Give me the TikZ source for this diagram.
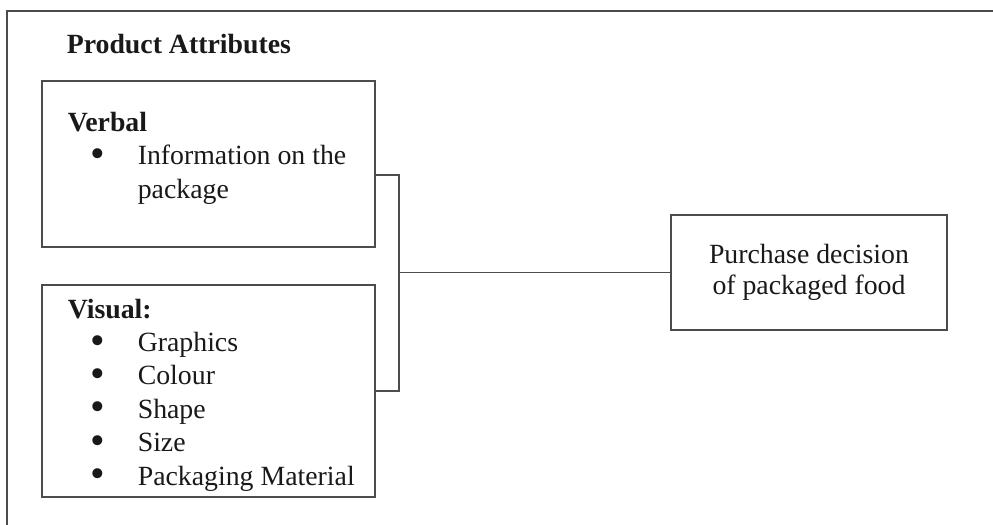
\documentclass[tikz,border=0pt]{standalone}
\usepackage{fontspec}
\setmainfont{Liberation Serif}
\usepackage{tikz}
\usetikzlibrary{positioning}

\newcommand{\bul}{\makebox[35pt][l]{\hspace*{11.2pt}\raisebox{-1.3pt}[0pt][0pt]{\scalebox{1.5}{\textbullet}}}}

\begin{document}
\begin{tikzpicture}[
    x = 0.5pt, y = -0.5pt,
    line width = 0.8pt,
    box/.style={draw=black!70, rectangle, inner sep=0pt},
    txt/.style={text=black!90, font=\fontsize{13.9}{16.7}\selectfont, inner sep=0pt, align=left, anchor=base west},
    link/.style={draw=black!70}
]
    \useasboundingbox (0,0) rectangle (993,525);
    % frame, only top and left are shown
    \draw[black!70, line width=1pt] (6.5,525) -- (6.5,11) -- (993,11);

    \node[txt] (title) at (66,53) {\textbf{Product Attributes}};

    \node[box, minimum width=166.5pt, minimum height=83pt] (verbal) at (208.5,164) {};
    \node[box, minimum width=166.5pt, minimum height=106pt] (visual) at (208.5,391) {};
    \node[box, minimum width=138pt, minimum height=57.5pt, text=black!90,
          font=\fontsize{13.9}{15.5}\selectfont, align=center] (purchase) at (809,272.5)
          {Purchase decision\\of packaged food};

    % base anchor sits on the last line
    \node[txt] (verbaltxt) at (67,198) {\textbf{Verbal}\\
        \bul Information on the\\
        \hspace*{35pt}package};
    \node[txt] (visualtxt) at (67,485) {\textbf{Visual:}\\
        \bul Graphics\\
        \bul Colour\\
        \bul Shape\\
        \bul Size\\
        \bul Packaging Material};

    \coordinate (joint) at (399,272.5);
    \draw[link] ([yshift=-5.5pt]verbal.east) -| (joint) |- (visual.east);
    \draw[link] (joint) -- (purchase);
\end{tikzpicture}
\end{document}
